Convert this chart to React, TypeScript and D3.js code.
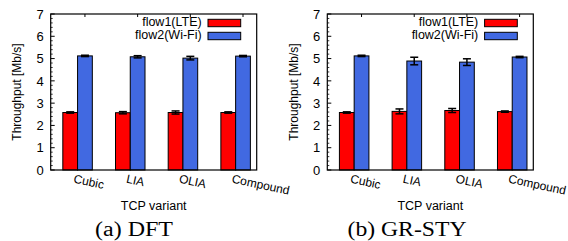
import React from "react";
import * as d3 from "d3";

// TCP throughput per variant, two scenarios (DFT / GR-STY)
const variants = ["Cubic", "LIA", "OLIA", "Compound"];
const seriesNames = ["flow1(LTE)", "flow2(Wi-Fi)"];
const yTicks = [0, 1, 2, 3, 4, 5, 6, 7];

const dftLte = [2.58, 2.57, 2.58, 2.58];
const dftLteErr = [0.03, 0.05, 0.07, 0.03];
const dftWifi = [5.12, 5.08, 5.02, 5.11];
const dftWifiErr = [0.03, 0.05, 0.08, 0.03];

const grLte = [2.58, 2.63, 2.67, 2.62];
const grLteErr = [0.03, 0.11, 0.09, 0.03];
const grWifi = [5.12, 4.89, 4.84, 5.07];
const grWifiErr = [0.03, 0.17, 0.15, 0.03];

const colors = ["#ff0000", "#4169e1"];
const W = 568;
const H = 241;
const SANS = "'Liberation Sans', Arial, Helvetica, sans-serif";
const SERIF = "'Liberation Serif', 'Times New Roman', serif";

type PanelProps = {
  left: number;
  caption: string;
  captionX: number;
  captionW: number;
  series: { vals: number[]; errs: number[] }[];
};

const Panel = ({ left, caption, captionX, captionW, series }: PanelProps) => {
  const pw = 206;
  const top = 14;
  const bottom = 170;
  const right = left + pw;

  const y = d3.scaleLinear().domain([0, 7]).range([bottom, top]);
  // x in "group index" units, red/blue boundary sits on the integer
  const x = d3.scaleLinear().domain([-0.51, 3.4]).range([left, right]);
  const bw = 0.28;
  const minor = d3.range(0, 7.001, 0.2).filter((v) => Math.abs(v - Math.round(v)) > 0.01);

  return (
    <g>
      {/* bars */}
      {series.map((s, si) =>
        s.vals.map((v, i) => {
          const x0 = si === 0 ? x(i - bw) : x(i);
          const x1 = si === 0 ? x(i) : x(i + bw);
          return (
            <rect
              key={`b${si}-${i}`}
              x={x0}
              y={y(v)}
              width={x1 - x0}
              height={y(0) - y(v)}
              fill={colors[si]}
              stroke="#000"
              strokeWidth={1}
            />
          );
        })
      )}
      {/* error bars */}
      {series.map((s, si) =>
        s.vals.map((v, i) => {
          const cx = si === 0 ? x(i - bw / 2) : x(i + bw / 2);
          const e = s.errs[i];
          const hw = 4;
          return (
            <g key={`e${si}-${i}`} stroke="#000" strokeWidth={1.5}>
              <line x1={cx} x2={cx} y1={y(v - e)} y2={y(v + e)} />
              <line x1={cx - hw} x2={cx + hw} y1={y(v - e)} y2={y(v - e)} />
              <line x1={cx - hw} x2={cx + hw} y1={y(v + e)} y2={y(v + e)} />
            </g>
          );
        })
      )}
      {/* frame */}
      <rect x={left} y={top} width={pw} height={bottom - top} fill="none" stroke="#000" strokeWidth={1.2} />
      {yTicks.map((t) => (
        <g key={`yt${t}`}>
          <line x1={left} x2={left + 4} y1={y(t)} y2={y(t)} stroke="#000" />
          <text
            x={left - 7}
            y={y(t)}
            dy="0.36em"
            textAnchor="end"
            fontFamily={SANS}
            fontSize={13}
          >
            {t}
          </text>
        </g>
      ))}
      {minor.map((t, i) => (
        <line key={`ym${i}`} x1={left} x2={left + 2} y1={y(t)} y2={y(t)} stroke="#000" strokeWidth={0.8} />
      ))}
      {variants.map((v, i) => (
        <g key={`xt${i}`}>
          <line x1={x(i + 0.14)} x2={x(i + 0.14)} y1={top} y2={top + 3} stroke="#000" />
          <text
            transform={`translate(${x(i) - 4.5},${bottom + 12.5}) rotate(12)`}
            fontFamily={SANS}
            fontSize={12}
          >
            {v}
          </text>
        </g>
      ))}
      <text
        transform={`translate(${left - 29.5},${(top + bottom) / 2}) rotate(-90)`}
        textAnchor="middle"
        fontFamily={SANS}
        fontSize={12}
      >
        Throughput [Mb/s]
      </text>
      <text x={(left + right) / 2} y={209.5} textAnchor="middle" fontFamily={SANS} fontSize={12.5}>
        TCP variant
      </text>
      {/* legend */}
      {seriesNames.map((n, si) => (
        <g key={`lg${si}`}>
          <text
            x={left + 151}
            y={top + 12 + si * 13}
            textAnchor="end"
            fontFamily={SANS}
            fontSize={12.5}
          >
            {n}
          </text>
          <rect
            x={left + 157.3}
            y={top + 5.3 + si * 13}
            width={32.7}
            height={7.4}
            fill={colors[si]}
            stroke="#000"
            strokeWidth={1}
          />
        </g>
      ))}
      <text
        x={captionX}
        y={235.5}
        textAnchor="middle"
        fontFamily={SERIF}
        fontSize={20}
        textLength={captionW}
        lengthAdjust="spacingAndGlyphs"
      >
        {caption}
      </text>
    </g>
  );
};

const App = () => {
  return (
    <svg
      width={W}
      height={H}
      style={{ position: "absolute", left: 0, top: 0, background: "#fff" }}
    >
      <Panel
        left={50.7}
        caption="(a) DFT"
        captionX={134}
        captionW={78}
        series={[
          { vals: dftLte, errs: dftLteErr },
          { vals: dftWifi, errs: dftWifiErr },
        ]}
      />
      <Panel
        left={327.3}
        caption="(b) GR-STY"
        captionX={407}
        captionW={119}
        series={[
          { vals: grLte, errs: grLteErr },
          { vals: grWifi, errs: grWifiErr },
        ]}
      />
    </svg>
  );
};

export default App;
